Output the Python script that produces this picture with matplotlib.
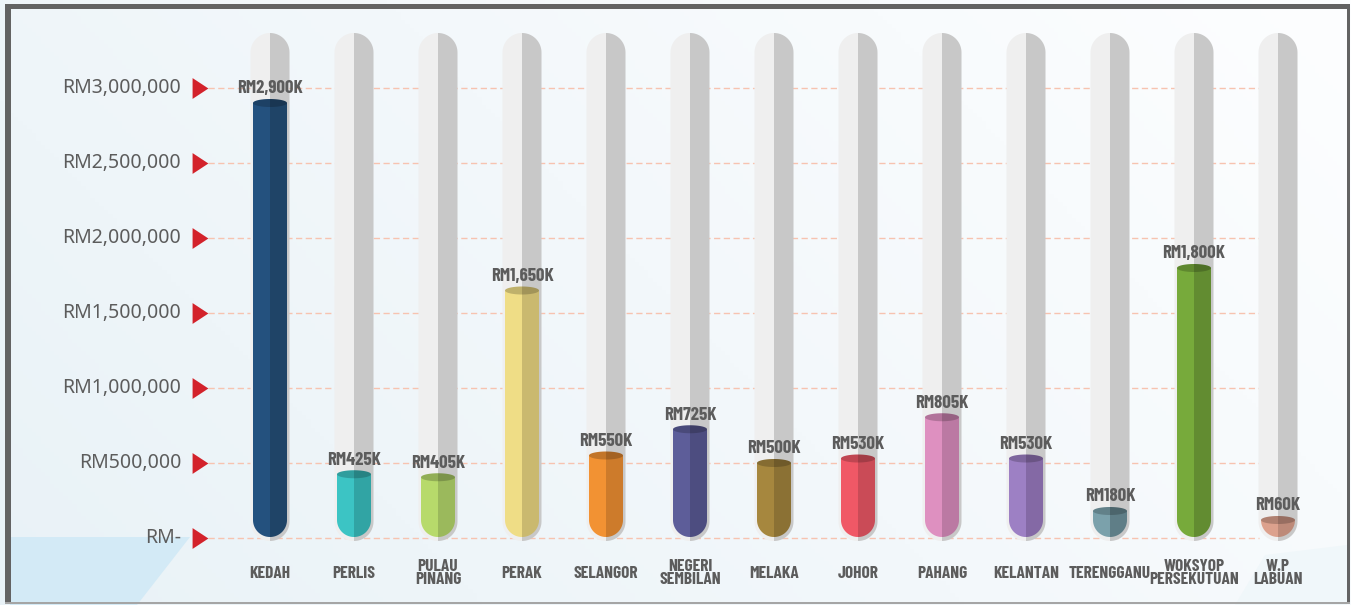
import numpy as np
import matplotlib
matplotlib.use('agg')
import matplotlib.pyplot as plt
from matplotlib import rcParams
from matplotlib.patches import Polygon, Rectangle
from matplotlib.colors import LinearSegmentedColormap, to_rgb

rcParams['font.family'] = ['Noto Sans', 'DejaVu Sans']

# chart data, values in thousands of RM
categories = ['KEDAH', 'PERLIS', 'PULAU\nPINANG', 'PERAK', 'SELANGOR',
              'NEGERI\nSEMBILAN', 'MELAKA', 'JOHOR', 'PAHANG', 'KELANTAN',
              'TERENGGANU', 'WOKSYOP\nPERSEKUTUAN', 'W.P\nLABUAN']
values_k = [2900, 425, 405, 1650, 550, 725, 500, 530, 805, 530, 180, 1800, 60]
tick_values = [0, 500000, 1000000, 1500000, 2000000, 2500000, 3000000]
tick_labels = ['RM-', 'RM500,000', 'RM1,000,000', 'RM1,500,000',
               'RM2,000,000', 'RM2,500,000', 'RM3,000,000']
light_colors = ['#24517e', '#3cc4c4', '#b7da6b', '#efdd86', '#f29233',
                '#5d5d99', '#a6873e', '#f05866', '#de90c0', '#9d80c4',
                '#7ba1ab', '#77aa3b', '#dca18d']
dark_colors = ['#1f4467', '#31a4a4', '#9bb95c', '#cab96f', '#cd7b2b',
               '#4d4d80', '#8b7134', '#ca4b57', '#bb79a3', '#8469a5',
               '#5f7e87', '#628c31', '#bd8a79']

# layout in pixels (figure is 1351 x 605 at dpi 100)
W, H = 1351, 605
X0_PX, DX_PX = 270.0, 84.0      # first category centre, category step
Y0_PX, PX_PER_K = 538.0, 0.15   # baseline (from top), pixels per RM1K
TEXT_COLOR = '#5c5c5c'
LABEL_FONT = ['Barlow Condensed', 'DejaVu Sans']


def dx(p):
    # pixel length -> data x length
    return p / DX_PX


def dy(p):
    # pixel length -> data y length
    return p / PX_PER_K


def py(p):
    # pixel row (from top) -> data y
    return (Y0_PX - p) / PX_PER_K


def px(p):
    # pixel column -> data x
    return (p - X0_PX) / DX_PX


def half_capsule(xc, w_px, bottom, top, side, round_top=False):
    # polygon for one half (side -1 left, +1 right) of a rounded bar
    rx, ry = dx(w_px / 2), dy(w_px / 2)
    pts = []
    if round_top:
        t = np.linspace(np.pi / 2, np.pi, 20)
        pts += list(zip(xc + rx * np.cos(t), top - ry + ry * np.sin(t)))
    else:
        pts += [(xc, top), (xc - rx, top)]
    t = np.linspace(np.pi, 1.5 * np.pi, 20)
    pts += list(zip(xc + rx * np.cos(t), bottom + ry + ry * np.sin(t)))
    pts = np.array(pts)
    if side > 0:
        pts[:, 0] = 2 * xc - pts[:, 0]
    return pts


def half_ellipse(xc, yc, w_px, h_px, side):
    t = np.linspace(np.pi / 2, 1.5 * np.pi, 30)
    pts = np.column_stack([xc + dx(w_px / 2) * np.cos(t),
                           yc + dy(h_px / 2) * np.sin(t)])
    if side > 0:
        pts[:, 0] = 2 * xc - pts[:, 0]
    return pts


def shade(c, f):
    return tuple(np.array(to_rgb(c)) * f)


def draw_background(fig):
    bg = fig.add_axes([0, 0, 1, 1])
    bg.set_xlim(0, W)
    bg.set_ylim(H, 0)
    bg.axis('off')
    gx, gy = np.meshgrid(np.linspace(0, 1, 300), np.linspace(0, 1, 150))
    grad = 0.7 * gx + 0.3 * (1 - gy)
    cmap = LinearSegmentedColormap.from_list('bg', ['#e9f2f7', '#fdfeff'])
    bg.imshow(grad, cmap=cmap, extent=(0, W, H, 0), aspect='auto', zorder=0)
    bg.add_patch(Polygon([(10, 537), (190, 537), (137, 605), (10, 605)],
                         closed=True, color='#d3eaf6', lw=0, zorder=1))
    bg.add_patch(Polygon([(1235, 605), (1265, 555), (1347, 545), (1347, 605)],
                         closed=True, color='#f0f7fa', lw=0, zorder=1))
    # frame
    bg.add_patch(Rectangle((5, 4), 5.5, 600, color='#636363', lw=0, zorder=2))
    bg.add_patch(Rectangle((5, 4), 1345, 5, color='#636363', lw=0, zorder=2))
    bg.add_patch(Rectangle((1346.5, 4), 3.5, 600, color='#636363', lw=0, zorder=2))
    bg.add_patch(Rectangle((5, 602), 1345, 2, color='#a5a5a5', lw=0, zorder=2))
    return bg


def draw_chart(fig):
    ax = fig.add_axes([0, 0, 1, 1])
    ax.patch.set_alpha(0)
    ax.set_xlim(px(0), px(W))
    ax.set_ylim(py(H), py(0))
    ax.axis('off')
    n = len(categories)
    ticks_k = [t / 1000 for t in tick_values]
    # dashed guides, triangles and labels
    ax.hlines(ticks_k, px(208), (n - 1) - dx(39 / 2), colors='#f7c3b0',
              linestyles=(0, (4.5, 2.5)), linewidth=1, zorder=1)
    tri = [(-0.76, -1), (0.76, 0), (-0.76, 1)]
    ax.plot([px(200)] * len(ticks_k), ticks_k, ls='none', marker=tri,
            ms=15, color='#d3222b', mec='none', zorder=2)
    for tk, lab in zip(ticks_k, tick_labels):
        ax.text(px(181), tk, lab, ha='right', va='center', fontsize=14,
                color=TEXT_COLOR, zorder=5)
    for i, (cat, v) in enumerate(zip(categories, values_k)):
        # grey tube behind
        for side, col in ((-1, '#efefef'), (1, '#c8c8c8')):
            ax.add_patch(Polygon(half_capsule(i, 39, py(541), py(33), side, True),
                                 closed=True, color=col, lw=0, zorder=2))
        # coloured bar
        bottom = py(537)
        top = max(v, bottom + dy(17))
        for side, col in ((-1, light_colors[i]), (1, dark_colors[i])):
            ax.add_patch(Polygon(half_capsule(i, 34, bottom, top, side),
                                 closed=True, color=col, lw=0, zorder=3))
            ax.add_patch(Polygon(half_ellipse(i, top, 34, 8, side), closed=True,
                                 color=shade(col, 0.8), lw=0, zorder=4))
        ax.annotate(f'RM{v:,}K', (i, top), xytext=(0, 7),
                    textcoords='offset points', ha='center', va='baseline',
                    fontsize=13.5, fontweight='bold', color=TEXT_COLOR,
                    family=LABEL_FONT, zorder=5)
        ax.text(i, py(573), cat, ha='center', va='center', fontsize=12.5,
                fontweight='bold', color=TEXT_COLOR, family=LABEL_FONT,
                linespacing=0.9, zorder=5)
    return ax


fig = plt.figure(figsize=(W / 100, H / 100), dpi=100)
draw_background(fig)
draw_chart(fig)
fig.savefig('out.png', dpi=100)
